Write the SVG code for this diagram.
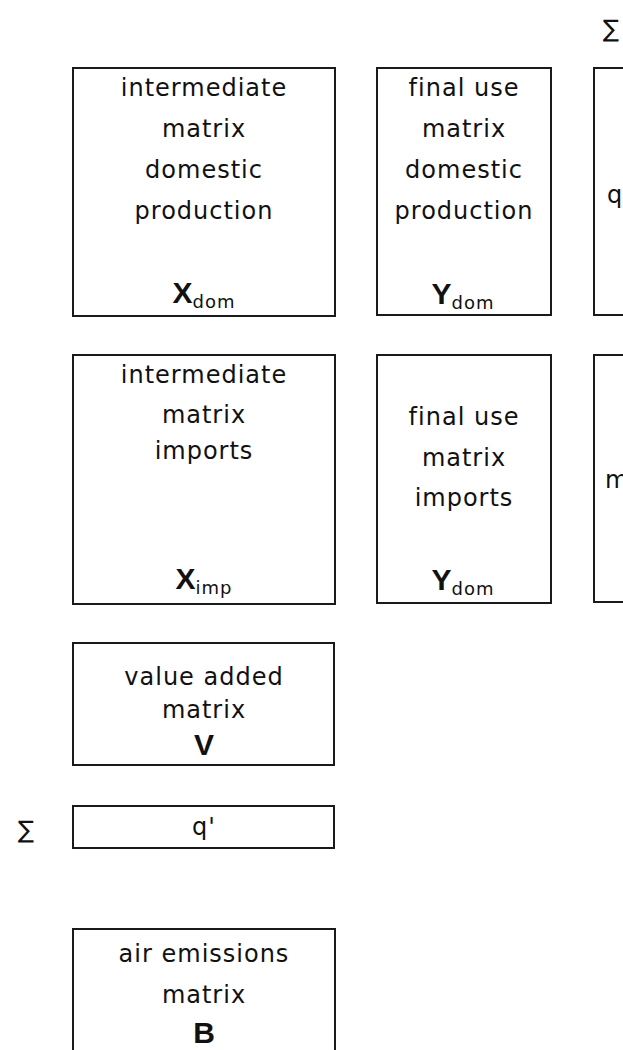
<svg xmlns="http://www.w3.org/2000/svg" width="623" height="1050" viewBox="0 0 623 1050">
<style>
.box{fill:#fff;stroke:#1a1a1a;stroke-width:2}
.t{font-family:"DejaVu Sans",sans-serif;font-size:24px;letter-spacing:1px;fill:#111;text-anchor:middle}
.ts{font-family:"DejaVu Sans",sans-serif;font-size:24px;fill:#111}
.big{font-family:"Liberation Sans",Arial,sans-serif;font-size:30px;font-weight:bold;letter-spacing:0}
.sub{font-family:"DejaVu Sans",sans-serif;font-size:18px;letter-spacing:1px}
.sig{font-family:"DejaVu Sans",sans-serif;font-size:24px;fill:#111}
</style>
<rect width="623" height="1050" fill="#fff"/>
<text class="sig" x="603" y="37">∑</text>
<g id="x-dom">
<rect class="box" x="73" y="68" width="262" height="248"/>
<text class="t" x="204" y="96">intermediate</text>
<text class="t" x="204" y="137">matrix</text>
<text class="t" x="204" y="178">domestic</text>
<text class="t" x="204" y="219">production</text>
<text class="t" x="204" y="303"><tspan class="big">X</tspan><tspan class="sub" dy="5">dom</tspan></text>
</g>
<g id="y-dom">
<rect class="box" x="377" y="68" width="174" height="247"/>
<text class="t" x="464" y="96">final use</text>
<text class="t" x="464" y="137">matrix</text>
<text class="t" x="464" y="178">domestic</text>
<text class="t" x="464" y="219">production</text>
<text class="t" x="463" y="304"><tspan class="big">Y</tspan><tspan class="sub" dy="5">dom</tspan></text>
</g>
<g id="q">
<rect class="box" x="594" y="68" width="40" height="247"/>
<text class="ts" x="607" y="203">q</text>
</g>
<g id="x-imp">
<rect class="box" x="73" y="355" width="262" height="249"/>
<text class="t" x="204" y="383">intermediate</text>
<text class="t" x="204" y="423">matrix</text>
<text class="t" x="204" y="459">imports</text>
<text class="t" x="204" y="589"><tspan class="big">X</tspan><tspan class="sub" dy="5">imp</tspan></text>
</g>
<g id="y-imp">
<rect class="box" x="377" y="355" width="174" height="248"/>
<text class="t" x="464" y="425">final use</text>
<text class="t" x="464" y="466">matrix</text>
<text class="t" x="464" y="506">imports</text>
<text class="t" x="463" y="590"><tspan class="big">Y</tspan><tspan class="sub" dy="5">dom</tspan></text>
</g>
<g id="m">
<rect class="box" x="594" y="355" width="40" height="247"/>
<text class="ts" x="605" y="488">m</text>
</g>
<g id="v">
<rect class="box" x="73" y="643" width="261" height="122"/>
<text class="t" x="204" y="685">value added</text>
<text class="t" x="204" y="718">matrix</text>
<text class="t" x="204" y="755"><tspan class="big">V</tspan></text>
</g>
<text class="sig" x="18" y="838">∑</text>
<g id="q-row">
<rect class="box" x="73" y="806" width="261" height="42"/>
<text class="t" x="204" y="835">q'</text>
</g>
<g id="b">
<rect class="box" x="73" y="929" width="262" height="140"/>
<text class="t" x="204" y="962">air emissions</text>
<text class="t" x="204" y="1003">matrix</text>
<text class="t" x="204" y="1043"><tspan class="big">B</tspan></text>
</g>
<g id="connectors"></g>
</svg>
